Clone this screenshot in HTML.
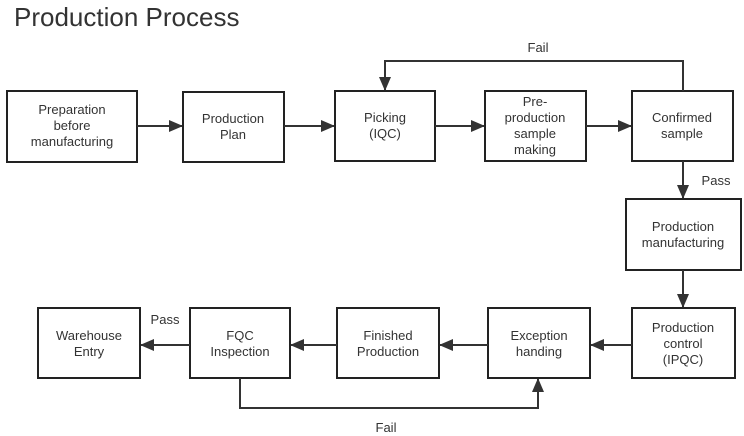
<!DOCTYPE html>
<html><head><meta charset="utf-8"><style>
body{margin:0;background:#fff;}
svg{display:block;}
text{font-family:"Liberation Sans",sans-serif;fill:#333;font-size:13px;text-anchor:middle;}
rect{fill:#fff;stroke:#222;stroke-width:2;}
line,polyline{stroke:#333;stroke-width:2;fill:none;}
</style></head><body>
<svg width="744" height="436" viewBox="0 0 744 436">
<defs><marker id="b" markerWidth="14" markerHeight="12" refX="13" refY="6" orient="auto" markerUnits="userSpaceOnUse"><path d="M0,0 L14,6 L0,12z" fill="#333"/></marker></defs>
<text x="14" y="26" style="font-size:26px;text-anchor:start;fill:#333">Production Process</text>
<rect x="7" y="91" width="130" height="71"/>
<text x="72" y="114">Preparation</text><text x="72" y="130">before</text><text x="72" y="146">manufacturing</text>
<rect x="183" y="92" width="101" height="70"/>
<text x="233" y="123">Production</text><text x="233" y="139">Plan</text>
<rect x="335" y="91" width="100" height="70"/>
<text x="385" y="122">Picking</text><text x="385" y="138">(IQC)</text>
<rect x="485" y="91" width="101" height="70"/>
<text x="535" y="106">Pre-</text><text x="535" y="122">production</text><text x="535" y="138">sample</text><text x="535" y="154">making</text>
<rect x="632" y="91" width="101" height="70"/>
<text x="682" y="122">Confirmed</text><text x="682" y="138">sample</text>
<rect x="626" y="199" width="115" height="71"/>
<text x="683" y="231">Production</text><text x="683" y="247">manufacturing</text>
<rect x="632" y="308" width="103" height="70"/>
<text x="683" y="332">Production</text><text x="683" y="348">control</text><text x="683" y="364">(IPQC)</text>
<rect x="488" y="308" width="102" height="70"/>
<text x="539" y="340">Exception</text><text x="539" y="356">handing</text>
<rect x="337" y="308" width="102" height="70"/>
<text x="388" y="340">Finished</text><text x="388" y="356">Production</text>
<rect x="190" y="308" width="100" height="70"/>
<text x="240" y="340">FQC</text><text x="240" y="356">Inspection</text>
<rect x="38" y="308" width="102" height="70"/>
<text x="89" y="340">Warehouse</text><text x="89" y="356">Entry</text>
<line x1="137" y1="126" x2="182" y2="126" marker-end="url(#b)"/>
<line x1="284" y1="126" x2="334" y2="126" marker-end="url(#b)"/>
<line x1="435" y1="126" x2="484" y2="126" marker-end="url(#b)"/>
<line x1="586" y1="126" x2="631" y2="126" marker-end="url(#b)"/>
<polyline points="683,91 683,61 385,61 385,90" marker-end="url(#b)"/>
<text x="538" y="52">Fail</text>
<line x1="683" y1="161" x2="683" y2="198" marker-end="url(#b)"/>
<text x="716" y="185">Pass</text>
<line x1="683" y1="270" x2="683" y2="307" marker-end="url(#b)"/>
<line x1="632" y1="345" x2="591" y2="345" marker-end="url(#b)"/>
<line x1="488" y1="345" x2="440" y2="345" marker-end="url(#b)"/>
<line x1="337" y1="345" x2="291" y2="345" marker-end="url(#b)"/>
<line x1="190" y1="345" x2="141" y2="345" marker-end="url(#b)"/>
<text x="165" y="324">Pass</text>
<polyline points="240,378 240,408 538,408 538,379" marker-end="url(#b)"/>
<text x="386" y="432">Fail</text>
</svg>
</body></html>
